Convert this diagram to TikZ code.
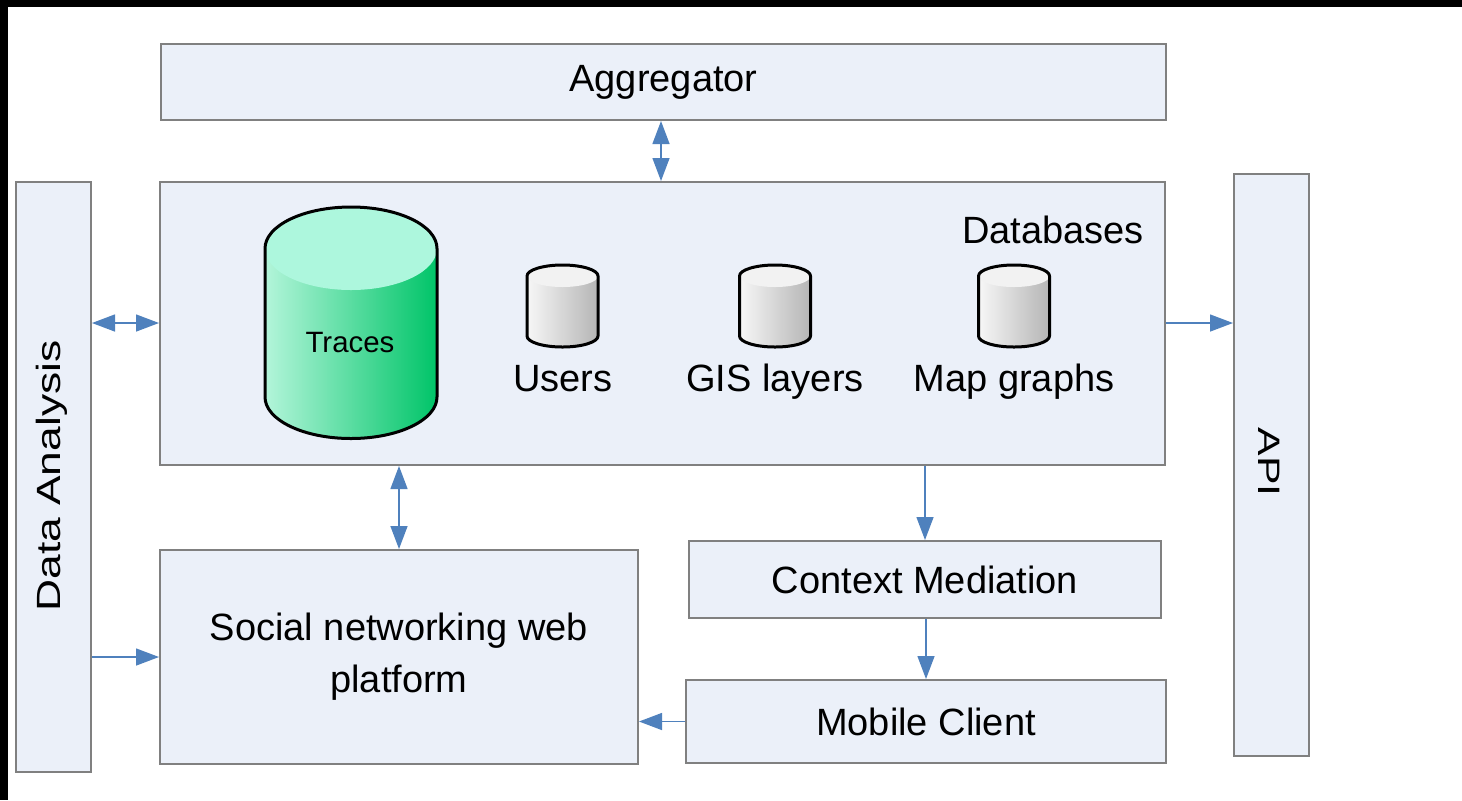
\documentclass[tikz,border=0pt]{standalone}
\usepackage{fontspec}
\setmainfont{Liberation Sans}
\usetikzlibrary{arrows.meta}
\definecolor{boxfill}{HTML}{EBF0F9}
\definecolor{boxline}{HTML}{808080}
\definecolor{flow}{HTML}{4F81BD}
\definecolor{greenlight}{HTML}{B3F5DA}
\definecolor{greendark}{HTML}{00C468}
\definecolor{greenlid}{HTML}{ADF7DD}
\definecolor{greylight}{HTML}{F7F7F7}
\definecolor{greydark}{HTML}{B5B5B5}
\definecolor{greylid}{HTML}{F2F2F2}
% database cylinder: #1 centre x, #2 top-ellipse centre y, #3 bottom-ellipse centre y,
% #4 x radius (pt), #5 y radius (pt), #6 left shade, #7 right shade, #8 lid colour
\newcommand\dbcyl[8]{%
  \path[left color=#6,right color=#7]
    ({#1-2*#4},#2) -- ({#1-2*#4},#3)
    arc[start angle=180,end angle=360,x radius=#4pt,y radius=#5pt]
    -- ({#1+2*#4},#2)
    arc[start angle=0,end angle=180,x radius=#4pt,y radius=#5pt] -- cycle;
  \fill[#8] (#1,#2) ellipse[x radius=#4pt,y radius=#5pt];
  \draw[line width=1.5pt,line join=round]
    ({#1-2*#4},#2) -- ({#1-2*#4},#3)
    arc[start angle=180,end angle=360,x radius=#4pt,y radius=#5pt]
    -- ({#1+2*#4},#2)
    arc[start angle=0,end angle=180,x radius=#4pt,y radius=#5pt] -- cycle;
}
\begin{document}
\begin{tikzpicture}[x=0.5pt,y=-0.5pt,
  box/.style={draw=boxline,line width=1pt,fill=boxfill,inner sep=0pt,
    font=\fontsize{19}{26}\selectfont},
  lbl/.style={inner sep=0pt,font=\fontsize{19}{26}\selectfont},
  link/.style={draw=flow,line width=0.7pt,-{Triangle[length=11.5pt,width=8.5pt]}},
  bilink/.style={draw=flow,line width=0.7pt,
    {Triangle[length=11.5pt,width=8.5pt]}-{Triangle[length=11.5pt,width=8.5pt]}}]
\useasboundingbox (0,0) rectangle (1462,800);
\fill[white] (0,0) rectangle (1462,800);
\fill[black] (0,0) rectangle (1462,7);
\fill[black] (0,0) rectangle (8,800);

% boxes
\node[box,minimum width=502.5pt,minimum height=38pt] (agg) at (663.5,82) {Aggregator};
\node[box,minimum width=502.5pt,minimum height=141.5pt] (db) at (662.5,323.5) {};
\node[box,minimum width=37.5pt,minimum height=295pt] (da) at (53.5,477) {};
\node[inner sep=0pt,rotate=90,font=\fontsize{16.8}{20}\selectfont] (datxt) at (51.5,476)
  {\scalebox{1.32}[1]{Data Analysis}};
\node[box,minimum width=37.5pt,minimum height=291pt] (api) at (1271.5,465) {};
\node[inner sep=0pt,rotate=-90,font=\fontsize{15.5}{19}\selectfont] (apitxt) at (1269,462)
  {\scalebox{1.38}[1]{API}};
\node[box,minimum width=239pt,minimum height=107pt,align=center] (soc) at (399,657)
  {Social networking web\\platform};
\node[box,minimum width=236pt,minimum height=38.5pt] (ctx) at (925,579.5) {Context Mediation};
\node[box,minimum width=240pt,minimum height=41.5pt] (mob) at (926,721.5) {Mobile Client};

% databases content
\node[lbl,anchor=base] (dbtxt) at (1053,243) {Databases};
\dbcyl{351}{248.5}{397}{43}{20.75}{greenlight}{greendark}{greenlid}
\node[inner sep=0pt,font=\fontsize{14.7}{18}\selectfont] (traces) at (350,343) {Traces};
\dbcyl{562.5}{276}{336}{17.75}{5.5}{greylight}{greydark}{greylid}
\dbcyl{775}{276}{336}{17.75}{5.5}{greylight}{greydark}{greylid}
\dbcyl{1014}{276}{336}{17.75}{5.5}{greylight}{greydark}{greylid}
\node[lbl,anchor=base] (users) at (563,391) {Users};
\node[lbl,anchor=base] (gis) at (775,391) {GIS layers};
\node[lbl,anchor=base] (maps) at (1014,391) {Map graphs};

% connectors
\coordinate (ymid) at (0,323);
\coordinate (xagg) at (661,0);
\draw[bilink] (agg.south -| xagg) -- (db.north -| xagg);
\draw[bilink] (da.east |- ymid) -- (db.west |- ymid);
\draw[link] (db.east |- ymid) -- (api.west |- ymid);
\draw[bilink] (db.south -| soc.north) -- (soc.north);
\draw[link] (db.south -| ctx.north) -- (ctx.north);
\draw[link] (ctx.south -| mob.north) -- (mob.north);
\draw[link] (mob.west) -- (mob.west -| soc.east);
\draw[link] (da.east |- soc.west) -- (soc.west);
\end{tikzpicture}
\end{document}
